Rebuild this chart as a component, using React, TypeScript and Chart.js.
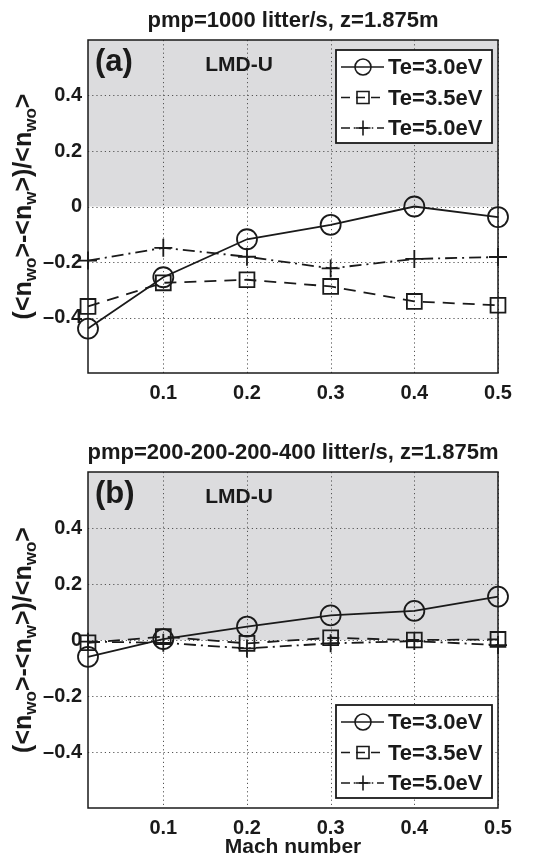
import React, { useEffect, useRef } from "react";
import { Chart, registerables } from "chart.js";

Chart.register(...registerables);

// ---- data ----
const machNumbers = [0.01, 0.1, 0.2, 0.3, 0.4, 0.5];
const xTicks = [0.1, 0.2, 0.3, 0.4, 0.5];
const yTicks = [-0.4, -0.2, 0, 0.2, 0.4];
const seriesLabels = ["Te=3.0eV", "Te=3.5eV", "Te=5.0eV"];

const panelA_te30 = [-0.44, -0.255, -0.118, -0.066, 0.0, -0.038];
const panelA_te35 = [-0.36, -0.275, -0.264, -0.288, -0.342, -0.356];
const panelA_te50 = [-0.195, -0.149, -0.181, -0.223, -0.189, -0.182];

const panelB_te30 = [-0.06, 0.003, 0.048, 0.088, 0.104, 0.155];
const panelB_te35 = [-0.01, 0.012, -0.012, 0.008, 0.0, 0.002];
const panelB_te50 = [-0.006, -0.01, -0.03, -0.012, -0.004, -0.018];

const titleA = "pmp=1000 litter/s, z=1.875m";
const titleB = "pmp=200-200-200-400 litter/s, z=1.875m";
const xAxisTitle = "Mach number";
const panelTag = "LMD-U";

const FONT = "'Liberation Sans', Arial, Helvetica, sans-serif";
const INK = "#1a1a1a";

type SeriesStyle = { dash: number[]; point: string; radius: number; legendRadius: number };
const styles: SeriesStyle[] = [
  { dash: [], point: "circle", radius: 10, legendRadius: 8 },
  { dash: [12, 8], point: "rect", radius: 10.5, legendRadius: 8.5 },
  { dash: [12, 5, 2, 5], point: "cross", radius: 9, legendRadius: 7.5 },
];

function drawMarker(ctx: CanvasRenderingContext2D, kind: string, x: number, y: number, r: number) {
  ctx.beginPath();
  if (kind === "circle") {
    ctx.arc(x, y, r, 0, Math.PI * 2);
  } else if (kind === "rect") {
    const s = r * Math.SQRT1_2;
    ctx.rect(x - s, y - s, 2 * s, 2 * s);
  } else {
    ctx.moveTo(x - r, y);
    ctx.lineTo(x + r, y);
    ctx.moveTo(x, y - r);
    ctx.lineTo(x, y + r);
  }
  ctx.stroke();
}

function drawYLabel(ctx: CanvasRenderingContext2D, cx: number, cy: number) {
  const parts: [string, boolean][] = [
    ["(<n", false],
    ["wo", true],
    [">-<n", false],
    ["w", true],
    [">)/<n", false],
    ["wo", true],
    [">", false],
  ];
  const main = `bold 25px ${FONT}`;
  const sub = `bold 17px ${FONT}`;
  let total = 0;
  for (const [t, s] of parts) {
    ctx.font = s ? sub : main;
    total += ctx.measureText(t).width;
  }
  ctx.save();
  ctx.translate(cx, cy);
  ctx.rotate(-Math.PI / 2);
  ctx.fillStyle = INK;
  ctx.textBaseline = "alphabetic";
  ctx.textAlign = "left";
  let x = -total / 2;
  for (const [t, s] of parts) {
    ctx.font = s ? sub : main;
    ctx.fillText(t, x, s ? 13 : 8);
    x += ctx.measureText(t).width;
  }
  ctx.restore();
}

type PanelCfg = {
  title: string;
  tag: string;
  legendAtTop: boolean;
  showXTitle: boolean;
};

function makePlugin(cfg: PanelCfg) {
  return {
    id: "panelDecor",
    beforeDatasetsDraw(chart: any) {
      const { ctx, chartArea: a, scales } = chart;
      const xs = scales.x;
      const ys = scales.y;
      ctx.save();
      const y0 = ys.getPixelForValue(0);
      const yTop = ys.getPixelForValue(ys.max);
      ctx.fillStyle = "rgb(220,220,222)";
      ctx.fillRect(a.left, yTop, a.right - a.left, y0 - yTop);
      ctx.strokeStyle = "#555";
      ctx.lineWidth = 1;
      ctx.setLineDash([1.2, 3]);
      for (const v of xTicks) {
        const px = Math.round(xs.getPixelForValue(v)) + 0.5;
        ctx.beginPath();
        ctx.moveTo(px, a.top);
        ctx.lineTo(px, a.bottom);
        ctx.stroke();
      }
      for (const v of yTicks) {
        const py = Math.round(ys.getPixelForValue(v)) + 0.5;
        ctx.beginPath();
        ctx.moveTo(a.left, py);
        ctx.lineTo(a.right, py);
        ctx.stroke();
      }
      ctx.restore();
    },
    afterDraw(chart: any) {
      const { ctx, chartArea: a } = chart;
      ctx.save();
      ctx.strokeStyle = INK;
      ctx.lineWidth = 1.5;
      ctx.setLineDash([]);
      ctx.strokeRect(a.left, a.top, a.right - a.left, a.bottom - a.top);

      // title
      ctx.fillStyle = INK;
      ctx.textAlign = "center";
      ctx.textBaseline = "alphabetic";
      ctx.font = `bold 22px ${FONT}`;
      ctx.fillText(cfg.title, (a.left + a.right) / 2, a.top - 13);

      // panel label & tag
      ctx.textAlign = "left";
      ctx.font = `bold 31px ${FONT}`;
      ctx.fillText(cfg.tag, a.left + 7, a.top + 31);
      ctx.textAlign = "center";
      ctx.font = `bold 21px ${FONT}`;
      ctx.fillText(panelTag, chart.scales.x.getPixelForValue(0.2) - 8, a.top + 31);

      drawYLabel(ctx, 23, (a.top + a.bottom) / 2);

      if (cfg.showXTitle) {
        ctx.textAlign = "center";
        ctx.font = `bold 21px ${FONT}`;
        ctx.fillText(xAxisTitle, (a.left + a.right) / 2, a.bottom + 45);
      }

      // legend
      const w = 156;
      const h = 93;
      const lx = a.right - 6 - w;
      const ly = cfg.legendAtTop ? a.top + 10 : a.bottom - 10 - h;
      ctx.fillStyle = "#ffffff";
      ctx.fillRect(lx, ly, w, h);
      ctx.strokeStyle = INK;
      ctx.lineWidth = 1.8;
      ctx.strokeRect(lx, ly, w, h);
      seriesLabels.forEach((lab, i) => {
        const cy = ly + 17 + i * 30.5;
        const st = styles[i];
        ctx.strokeStyle = INK;
        ctx.lineWidth = 1.6;
        ctx.setLineDash(st.dash.length ? st.dash.map((d) => d * 0.75) : []);
        ctx.beginPath();
        ctx.moveTo(lx + 5, cy);
        ctx.lineTo(lx + 48, cy);
        ctx.stroke();
        ctx.setLineDash([]);
        drawMarker(ctx, st.point, lx + 27, cy, st.legendRadius);
        ctx.fillStyle = INK;
        ctx.textAlign = "left";
        ctx.textBaseline = "middle";
        ctx.font = `bold 22px ${FONT}`;
        ctx.fillText(lab, lx + 52, cy + 1);
      });
      ctx.restore();
    },
  };
}

function fmtTick(v: number) {
  if (Math.abs(v) < 1e-9) return "0";
  return (v < 0 ? "\u2013" : "") + Math.abs(v).toFixed(1);
}

function buildConfig(series: number[][], cfg: PanelCfg, padTop: number, xAxisHeight: number) {
  return {
    type: "line" as const,
    data: {
      labels: machNumbers,
      datasets: series.map((vals, i) => ({
        label: seriesLabels[i],
        data: vals.map((v, j) => ({ x: machNumbers[j], y: v })),
        borderColor: INK,
        backgroundColor: "rgba(0,0,0,0)",
        borderWidth: 1.8,
        borderDash: styles[i].dash,
        pointStyle: styles[i].point,
        pointRadius: styles[i].radius,
        pointBorderWidth: 1.8,
        pointBorderColor: INK,
        pointBackgroundColor: "rgba(0,0,0,0)",
        tension: 0,
        clip: false,
      })),
    },
    options: {
      animation: false,
      responsive: false,
      maintainAspectRatio: false,
      events: [],
      layout: { padding: { left: 0, right: 59, top: padTop, bottom: 0 } },
      plugins: { legend: { display: false }, title: { display: false }, tooltip: { enabled: false } },
      scales: {
        x: {
          type: "linear",
          min: 0.01,
          max: 0.5,
          grid: { display: false, drawTicks: false },
          border: { display: false },
          afterBuildTicks: (s: any) => {
            s.ticks = xTicks.map((v) => ({ value: v }));
          },
          afterFit: (s: any) => {
            s.height = xAxisHeight;
          },
          ticks: {
            autoSkip: false,
            maxRotation: 0,
            padding: 8,
            color: INK,
            font: { family: FONT, size: 20, weight: "bold" },
            callback: (v: any) => fmtTick(Number(v)),
          },
        },
        y: {
          type: "linear",
          min: -0.6,
          max: 0.6,
          grid: { display: false, drawTicks: false },
          border: { display: false },
          afterBuildTicks: (s: any) => {
            s.ticks = yTicks.map((v) => ({ value: v }));
          },
          afterFit: (s: any) => {
            s.width = 88;
          },
          ticks: {
            autoSkip: false,
            padding: 6,
            color: INK,
            font: { family: FONT, size: 20, weight: "bold" },
            callback: (v: any) => fmtTick(Number(v)),
          },
        },
      },
    },
    plugins: [makePlugin(cfg)],
  };
}

function Panel(props: { series: number[][]; cfg: PanelCfg; height: number; padTop: number; xAxisHeight: number }) {
  const ref = useRef<HTMLCanvasElement | null>(null);
  useEffect(() => {
    if (!ref.current) return;
    const chart = new Chart(ref.current, buildConfig(props.series, props.cfg, props.padTop, props.xAxisHeight) as any);
    return () => chart.destroy();
  }, []);
  return (
    <div style={{ width: 557, height: props.height, position: "relative" }}>
      <canvas ref={ref} width={557} height={props.height} style={{ display: "block", width: 557, height: props.height }} />
    </div>
  );
}

export default function App() {
  return (
    <div style={{ position: "absolute", left: 0, top: 0, width: 557, height: 861, background: "#fff" }}>
      <Panel
        series={[panelA_te30, panelA_te35, panelA_te50]}
        cfg={{ title: titleA, tag: "(a)", legendAtTop: true, showXTitle: false }}
        height={425}
        padTop={40}
        xAxisHeight={52}
      />
      <Panel
        series={[panelB_te30, panelB_te35, panelB_te50]}
        cfg={{ title: titleB, tag: "(b)", legendAtTop: false, showXTitle: true }}
        height={436}
        padTop={47}
        xAxisHeight={53}
      />
    </div>
  );
}
